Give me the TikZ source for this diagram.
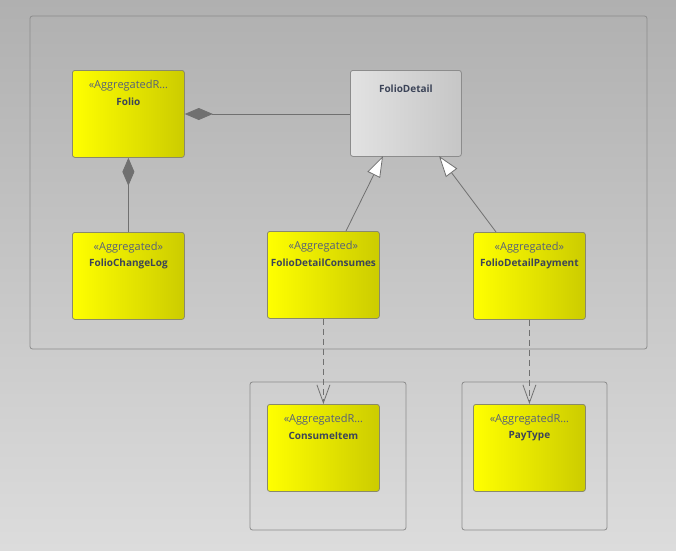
\documentclass[tikz,border=0pt]{standalone}
\usepackage{fontspec}
\setmainfont{Open Sans}
\usetikzlibrary{arrows.meta,calc}
\definecolor{bgtop}{HTML}{B0B0B0}
\definecolor{bgbot}{HTML}{DCDCDC}
\definecolor{frameline}{HTML}{8C8C8C}
\definecolor{boxline}{HTML}{8A8A6A}
\definecolor{yelR}{HTML}{CCCC00}
\definecolor{grayL}{HTML}{E2E2E2}
\definecolor{grayR}{HTML}{C6C6C6}
\definecolor{stereoc}{HTML}{56607A}
\definecolor{namec}{HTML}{3C4458}
\definecolor{linec}{HTML}{707070}
\tikzset{
  frame/.style={draw=frameline, line width=0.8pt, rounded corners=2.5pt},
  ybox/.style={draw=boxline, line width=0.8pt, rounded corners=2.5pt, anchor=north west,
    minimum width=112pt, minimum height=87pt, inner sep=0pt,
    left color=yellow, middle color=yellow, right color=yelR},
  gbox/.style={draw=frameline, line width=0.8pt, rounded corners=2.5pt, anchor=north west,
    minimum width=111pt, minimum height=86pt, inner sep=0pt,
    left color=grayL, right color=grayR},
  stereo/.style={text=stereoc, font=\fontsize{11}{13}\selectfont, inner sep=0pt},
  cname/.style={text=namec, font=\fontsize{10}{12}\selectfont\bfseries, inner sep=0pt},
  conn/.style={draw=linec, line width=0.8pt},
  compo/.style={conn, {Diamond[length=28pt,width=12pt,fill=linec,color=linec]}-},
  gener/.style={conn, -{Triangle[open,length=21pt,width=14pt,fill=white,color=linec]}},
  depend/.style={conn, dashed, dash pattern=on 6pt off 4pt, -{Straight Barb[length=18pt,width=13pt,line width=0.8pt]}},
}
\begin{document}
\begin{tikzpicture}[x=1pt,y=-1pt]
\fill[top color=bgtop,bottom color=bgbot] (0,0) rectangle (676,550);
\useasboundingbox (0,0) rectangle (676,550);
% frames
\draw[frame] (30,16) rectangle (647,349);
\draw[frame] (250,382) rectangle (406,530);
\draw[frame] (462,382) rectangle (607,530);
% boxes
\node[ybox] (folio) at (72,70) {};
\node[gbox] (fd) at (350,70) {};
\node[ybox] (fcl) at (72,232) {};
\node[ybox] (fdc) at (267,231) {};
\node[ybox] (fdp) at (473,232) {};
\node[ybox] (ci) at (267,404) {};
\node[ybox] (pt) at (473,404) {};
% texts
\node[stereo] (folio-s) at ($(folio.north)+(0,16)$) {«AggregatedR…};
\node[cname] (folio-n) at ($(folio.north)+(0,32)$) {Folio};
\node[cname] (fd-n) at ($(fd.north)+(0,19)$) {FolioDetail};
\node[stereo] (fcl-s) at ($(fcl.north)+(0,16)$) {«Aggregated»};
\node[cname] (fcl-n) at ($(fcl.north)+(0,32)$) {FolioChangeLog};
\node[stereo] (fdc-s) at ($(fdc.north)+(0,16)$) {«Aggregated»};
\node[cname] (fdc-n) at ($(fdc.north)+(0,32)$) {FolioDetailConsumes};
\node[stereo] (fdp-s) at ($(fdp.north)+(0,16)$) {«Aggregated»};
\node[cname] (fdp-n) at ($(fdp.north)+(0,32)$) {FolioDetailPayment};
\node[stereo] (ci-s) at ($(ci.north)+(0,16)$) {«AggregatedR…};
\node[cname] (ci-n) at ($(ci.north)+(0,32)$) {ConsumeItem};
\node[stereo] (pt-s) at ($(pt.north)+(0,16)$) {«AggregatedR…};
\node[cname] (pt-n) at ($(pt.north)+(0,32)$) {PayType};
% connectors
\draw[compo] (folio.east |- 0,114) -- (fd.west |- 0,114);
\draw[compo] (folio.south) -- (fcl.north);
\coordinate (g1) at (383,156);
\coordinate (g1s) at (346,231);
\coordinate (g2) at (439,156);
\coordinate (g2s) at (496,232);
\draw[gener] (g1s) -- (g1);
\draw[gener] (g2s) -- (g2);
\draw[depend] (fdc.south) -- (ci.north);
\draw[depend] (fdp.south) -- (pt.north);
\end{tikzpicture}
\end{document}
